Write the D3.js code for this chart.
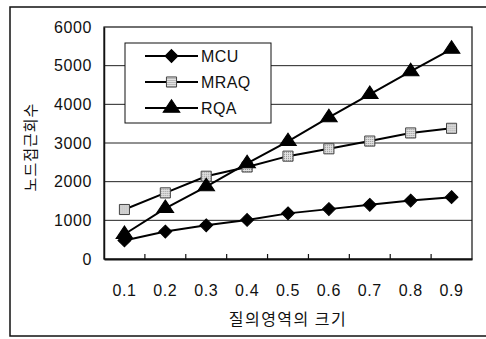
<!DOCTYPE html>
<html>
<head>
<meta charset="utf-8">
<script src="https://cdn.jsdelivr.net/npm/d3@7/dist/d3.min.js"></script>
<style>
  html, body { margin: 0; padding: 0; background: #fff; }
  svg { display: block; }
  text { font-family: "Liberation Sans", Arial, "Noto Sans CJK KR", sans-serif; fill: #111; }
  .ko { font-family: "Noto Sans CJK KR", sans-serif; }
</style>
</head>
<body>
<script>
// Query region size vs. number of node accesses
const categories = ["0.1", "0.2", "0.3", "0.4", "0.5", "0.6", "0.7", "0.8", "0.9"];
const mcuValues  = [480, 710, 870, 1010, 1180, 1290, 1400, 1510, 1600];
const mraqValues = [1280, 1710, 2140, 2380, 2660, 2850, 3050, 3260, 3380];
const rqaValues  = [640, 1310, 1870, 2470, 3040, 3660, 4260, 4850, 5430];
const yTicks = [0, 1000, 2000, 3000, 4000, 5000, 6000];
const seriesNames = ["MCU", "MRAQ", "RQA"];
const xTitle = "질의영역의 크기";
const yTitle = "노드접근회수";

const W = 486, H = 339;
const plot = { left: 104, right: 472, top: 27, bottom: 259 };

const svg = d3.select("body").append("svg")
  .attr("width", W).attr("height", H);

// dotted fill for the square markers
const defs = svg.append("defs");
const pat = defs.append("pattern")
  .attr("id", "dots").attr("patternUnits", "userSpaceOnUse")
  .attr("width", 2).attr("height", 2);
pat.append("rect").attr("width", 2).attr("height", 2).attr("fill", "#e2e2e2");
pat.append("rect").attr("width", 1).attr("height", 1).attr("fill", "#909090");

// outer frame
svg.append("rect")
  .attr("x", 10).attr("y", 7).attr("width", 490).attr("height", 329)
  .attr("fill", "none").attr("stroke", "#111").attr("stroke-width", 1.5);

const x = d3.scaleBand().domain(categories).range([plot.left, plot.right]).padding(0);
const y = d3.scaleLinear().domain([0, 6000]).range([plot.bottom, plot.top]);

// horizontal gridlines
svg.append("g").selectAll("line")
  .data(yTicks.filter(v => v > 0 && v < 6000))
  .join("line")
  .attr("x1", plot.left).attr("x2", plot.right)
  .attr("y1", d => y(d)).attr("y2", d => y(d))
  .attr("stroke", "#222").attr("stroke-width", 1);

// plot border
svg.append("rect")
  .attr("x", plot.left).attr("y", plot.top)
  .attr("width", plot.right - plot.left).attr("height", plot.bottom - plot.top)
  .attr("fill", "none").attr("stroke", "#111").attr("stroke-width", 1.2);

// y axis labels
const yAxis = d3.axisLeft(y).tickValues(yTicks).tickSize(0).tickPadding(12).tickFormat(d3.format("d"));
const gy = svg.append("g").attr("transform", `translate(${plot.left},0)`).call(yAxis);
gy.select(".domain").attr("stroke", "#111").attr("stroke-width", 1.5);
gy.selectAll("text").attr("font-size", 16).attr("letter-spacing", 0.6)
  .style("font-family", "'Liberation Sans', Arial, sans-serif").attr("fill", "#111");

// x axis: category labels with ticks between categories pointing inward
const xAxis = d3.axisBottom(x).tickSize(0).tickPadding(26);
const gx = svg.append("g").attr("transform", `translate(0,${plot.bottom})`).call(xAxis);
gx.select(".domain").attr("stroke", "#111").attr("stroke-width", 2);
gx.selectAll("text").attr("font-size", 16).attr("letter-spacing", 0.6)
  .style("font-family", "'Liberation Sans', Arial, sans-serif").attr("fill", "#111");
svg.append("g").selectAll("line")
  .data(categories.slice(1))
  .join("line")
  .attr("x1", d => x(d)).attr("x2", d => x(d))
  .attr("y1", plot.bottom).attr("y2", plot.bottom - 5)
  .attr("stroke", "#111").attr("stroke-width", 1.2);

// axis titles
svg.append("text").attr("class", "ko")
  .attr("x", (plot.left + plot.right) / 2).attr("y", 325)
  .attr("text-anchor", "middle").attr("font-size", 16).attr("letter-spacing", 1.5)
  .text(xTitle);
svg.append("text").attr("class", "ko")
  .attr("transform", `translate(36,${(plot.top + plot.bottom) / 2 + 4}) rotate(-90)`)
  .attr("text-anchor", "middle").attr("font-size", 15).attr("letter-spacing", 1)
  .text(yTitle);

// series
const markers = {
  MCU:  { type: d3.symbolDiamond2, size: 95, fill: "#000", stroke: "#000" },
  MRAQ: { type: d3.symbolSquare2, size: 130, fill: "url(#dots)", stroke: "#444" },
  RQA:  { type: d3.symbolTriangle, size: 90, fill: "#000", stroke: "#000" }
};
const series = [
  { name: "MCU", values: mcuValues },
  { name: "MRAQ", values: mraqValues },
  { name: "RQA", values: rqaValues }
];
const line = d3.line()
  .x((d, i) => x(categories[i]) + x.bandwidth() / 2)
  .y(d => y(d));

function drawMarker(g, name, cx, cy) {
  const m = markers[name];
  const sym = d3.symbol().type(m.type).size(m.size)();
  const el = g.append("path").attr("d", sym)
    .attr("transform", `translate(${cx},${cy})`)
    .attr("fill", m.fill).attr("stroke", m.stroke).attr("stroke-width", 1);
  if (name === "MCU") el.attr("transform", `translate(${cx},${cy}) scale(1.05,1.05)`);
  if (name === "RQA") el.attr("transform", `translate(${cx},${cy}) scale(1.15,1)`);
}

const gs = svg.append("g");
series.forEach(s => {
  gs.append("path").datum(s.values)
    .attr("d", line).attr("fill", "none")
    .attr("stroke", "#000").attr("stroke-width", 2);
});
series.forEach(s => {
  s.values.forEach((v, i) => {
    drawMarker(gs, s.name, x(categories[i]) + x.bandwidth() / 2, y(v));
  });
});

// legend
const lg = svg.append("g");
lg.append("rect")
  .attr("x", 125).attr("y", 43).attr("width", 146).attr("height", 80)
  .attr("fill", "#fff").attr("stroke", "#111").attr("stroke-width", 1);
seriesNames.forEach((name, i) => {
  const ly = 56 + i * 26;
  lg.append("line").attr("x1", 145).attr("x2", 198).attr("y1", ly).attr("y2", ly)
    .attr("stroke", "#000").attr("stroke-width", 2);
  drawMarker(lg, name, 171.5, ly);
  lg.append("text").attr("x", 201).attr("y", ly + 6)
    .attr("font-size", 16).attr("letter-spacing", 0.4).text(name);
});
</script>
</body>
</html>
